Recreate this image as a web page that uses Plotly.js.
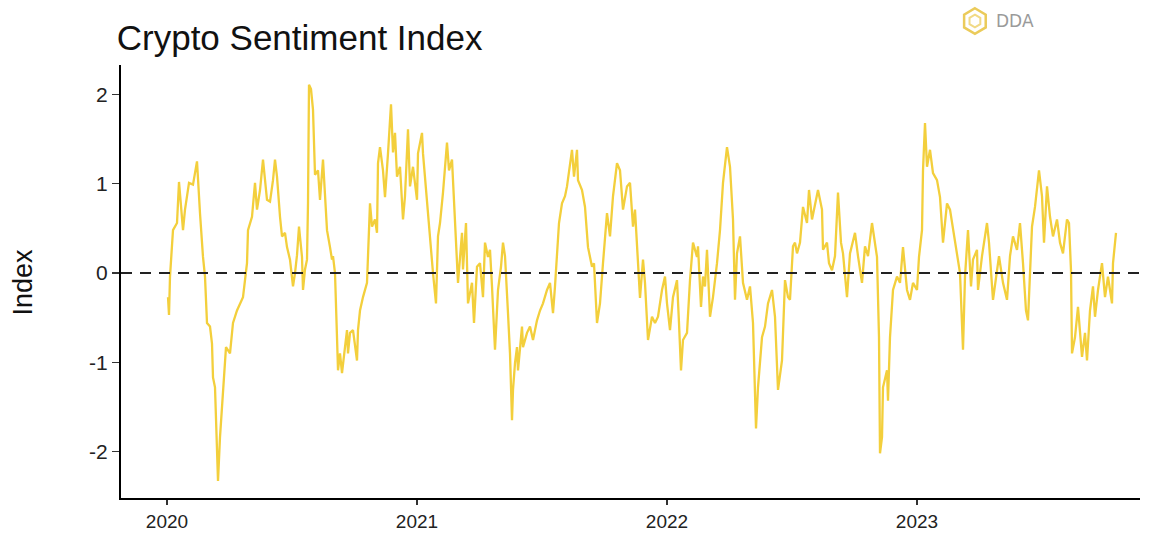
<!DOCTYPE html>
<html>
<head>
<meta charset="utf-8">
<script src="https://cdn.plot.ly/plotly-3.0.1.min.js"></script>
<style>html,body{margin:0;padding:0;background:#fff;}#chart{width:1156px;height:533px;}</style>
</head>
<body>
<div id="chart"></div>
<script>
// Decimal-year time stamps of the sentiment readings
const years = [
2020.004,2020.008,2020.012,2020.024,2020.040,2020.048,2020.064,2020.072,2020.088,2020.104,2020.120,2020.124,2020.132,2020.144,2020.152,2020.160,2020.172,2020.180,2020.184,2020.192,2020.200,2020.204,2020.212,2020.224,2020.236,2020.252,2020.264,2020.280,2020.292,2020.304,2020.320,2020.324,2020.340,2020.352,2020.360,2020.372,2020.384,2020.392,2020.400,2020.412,2020.424,2020.432,2020.440,2020.452,2020.460,2020.472,2020.480,2020.492,2020.504,2020.512,2020.520,2020.528,2020.540,2020.544,2020.552,2020.560,2020.564,2020.568,2020.576,2020.584,2020.592,2020.604,
2020.612,2020.624,2020.632,2020.640,2020.652,2020.660,2020.664,2020.672,2020.680,2020.684,2020.692,2020.700,2020.712,2020.720,2020.724,2020.732,2020.744,2020.760,2020.764,2020.772,2020.784,2020.800,2020.812,2020.820,2020.832,2020.840,2020.844,2020.852,2020.864,2020.872,2020.884,2020.896,2020.904,2020.912,2020.920,2020.932,2020.944,2020.952,2020.964,2020.972,2020.984,2021.000,2021.004,2021.020,2021.024,2021.040,2021.052,2021.064,2021.076,2021.084,2021.092,2021.104,2021.120,2021.128,2021.140,2021.148,2021.160,2021.164,2021.180,2021.184,2021.196,2021.204,2021.220,2021.228,2021.240,2021.252,
2021.264,2021.272,2021.284,2021.292,2021.300,2021.304,2021.312,2021.324,2021.336,2021.344,2021.352,2021.364,2021.372,2021.380,2021.384,2021.392,2021.400,2021.404,2021.420,2021.424,2021.440,2021.452,2021.464,2021.480,2021.492,2021.504,2021.520,2021.532,2021.544,2021.552,2021.560,2021.568,2021.580,2021.592,2021.600,2021.612,2021.620,2021.628,2021.640,2021.644,2021.660,2021.672,2021.684,2021.700,2021.708,2021.720,2021.732,2021.744,2021.760,2021.772,2021.784,2021.800,2021.812,2021.824,2021.840,2021.852,2021.864,2021.872,2021.884,2021.892,
2021.904,2021.912,2021.924,2021.940,2021.952,2021.964,2021.980,2021.992,2022.000,2022.012,2022.024,2022.040,2022.048,2022.056,2022.064,2022.080,2022.092,2022.104,2022.120,2022.124,2022.136,2022.144,2022.152,2022.160,2022.172,2022.184,2022.200,2022.212,2022.224,2022.240,2022.252,2022.264,2022.272,2022.280,2022.292,2022.304,2022.320,2022.332,2022.344,2022.356,2022.364,2022.380,2022.392,2022.404,2022.420,2022.432,2022.444,2022.460,2022.472,2022.484,2022.492,2022.504,2022.512,2022.520,2022.532,
2022.544,2022.560,2022.568,2022.580,2022.592,2022.604,2022.620,2022.624,2022.640,2022.648,2022.660,2022.672,2022.684,2022.696,2022.704,2022.720,2022.732,2022.752,2022.764,2022.780,2022.792,2022.804,2022.820,2022.832,2022.840,2022.848,2022.852,2022.860,2022.864,2022.880,2022.884,2022.892,2022.904,2022.920,2022.932,2022.944,2022.960,2022.972,2022.984,2023.000,2023.008,2023.020,2023.024,2023.032,2023.040,2023.052,2023.064,2023.080,2023.092,2023.104,2023.120,2023.132,2023.144,2023.160,2023.172,
2023.184,2023.192,2023.204,2023.216,2023.224,2023.240,2023.244,2023.260,2023.280,2023.288,2023.304,2023.320,2023.328,2023.344,2023.360,2023.372,2023.384,2023.400,2023.412,2023.424,2023.436,2023.444,2023.460,2023.472,2023.488,2023.500,2023.508,2023.520,2023.532,2023.544,2023.560,2023.572,2023.584,2023.600,2023.608,2023.616,2023.620,2023.632,2023.644,2023.660,2023.672,2023.680,2023.692,2023.704,2023.712,2023.724,2023.740,2023.752,2023.764,2023.780,2023.784,2023.796
];

// Sentiment index values
const sentiment = [
-0.27,-0.47,-0.04,0.48,0.56,1.02,0.48,0.71,1.01,0.99,1.25,1.00,0.67,0.18,-0.04,-0.56,-0.60,-0.79,-1.17,-1.28,-1.84,-2.33,-1.84,-1.28,-0.83,-0.90,-0.56,-0.42,-0.34,-0.27,0.11,0.48,0.63,1.01,0.71,0.93,1.27,1.08,0.82,0.80,1.04,1.27,1.08,0.63,0.41,0.45,0.29,0.15,-0.15,0.00,0.20,0.52,0.18,-0.19,0.04,0.15,0.78,2.11,2.06,1.83,1.10,1.15,
0.82,1.27,0.85,0.48,0.29,0.15,0.19,0.00,-0.72,-1.09,-0.90,-1.12,-0.83,-0.64,-0.90,-0.67,-0.64,-0.98,-0.64,-0.42,-0.27,-0.11,0.78,0.52,0.60,0.45,1.23,1.41,1.15,0.85,1.34,1.89,1.35,1.57,1.08,1.19,0.60,0.86,1.61,0.97,1.19,0.82,1.34,1.57,1.34,0.82,0.34,0.00,-0.34,0.41,0.56,0.90,1.46,1.15,1.27,0.78,0.15,-0.11,0.45,0.04,0.56,-0.34,-0.11,-0.56,0.07,0.11,
-0.27,0.34,0.18,0.26,-0.15,-0.34,-0.86,-0.19,0.07,0.34,0.19,-0.45,-0.90,-1.65,-1.31,-1.01,-0.83,-1.09,-0.60,-0.83,-0.67,-0.60,-0.75,-0.53,-0.42,-0.34,-0.19,-0.11,-0.45,-0.15,0.15,0.56,0.78,0.86,0.97,1.19,1.38,1.08,1.38,1.04,0.93,0.74,0.29,0.07,0.11,-0.56,-0.34,0.11,0.67,0.41,0.86,1.23,1.15,0.71,0.97,1.01,0.52,0.71,0.03,-0.28,
0.15,-0.11,-0.75,-0.49,-0.56,-0.49,-0.19,-0.04,-0.34,-0.64,-0.27,-0.08,-0.56,-1.09,-0.75,-0.67,-0.08,0.34,0.18,0.30,-0.38,-0.04,-0.15,0.26,-0.49,-0.27,0.11,0.48,1.01,1.41,1.19,0.60,-0.30,0.22,0.41,-0.11,-0.30,-0.15,-0.56,-1.74,-1.28,-0.72,-0.60,-0.34,-0.19,-0.49,-1.31,-0.98,-0.08,-0.27,-0.30,0.30,0.34,0.22,0.34,
0.74,0.56,0.93,0.60,0.78,0.93,0.71,0.26,0.34,0.11,0.03,0.19,0.90,0.34,0.22,-0.27,0.22,0.45,0.19,-0.11,0.30,0.19,0.56,0.34,0.18,-0.72,-2.02,-1.84,-1.28,-1.09,-1.43,-0.72,-0.19,-0.04,-0.11,0.29,-0.19,-0.30,-0.11,-0.19,0.18,0.48,1.15,1.68,1.19,1.38,1.12,1.04,0.85,0.34,0.78,0.71,0.48,0.22,0.00,
-0.86,-0.04,0.48,-0.15,0.15,0.26,-0.19,0.19,0.56,0.34,-0.30,0.04,0.19,-0.11,-0.30,0.19,0.41,0.26,0.56,0.11,-0.42,-0.53,0.52,0.74,1.15,0.86,0.34,0.97,0.63,0.41,0.60,0.34,0.22,0.60,0.56,0.03,-0.90,-0.72,-0.38,-0.94,-0.67,-0.98,-0.42,-0.15,-0.49,-0.19,0.11,-0.27,-0.04,-0.34,0.11,0.45
];

const yearTicks = [2020, 2021, 2022, 2023];
const yearLabels = ["2020", "2021", "2022", "2023"];
const indexTicks = [-2, -1, 0, 1, 2];
const indexLabels = ["-2", "-1", "0", "1", "2"];

const trace = {
  x: years, y: sentiment, type: 'scatter', mode: 'lines',
  line: {color: '#F3CF3C', width: 2.3}, hoverinfo: 'x+y', showlegend: false
};

// hexagon logo outline (decoration)
const cx = 0.838, cy = 1.1016, rx = 0.0122, ry = 0.0295;
function hexPath(s) {
  let p = '';
  for (let i = 0; i < 6; i++) {
    const a = Math.PI / 2 - i * Math.PI / 3;
    p += (i === 0 ? 'M ' : ' L ') + (cx + s * rx * Math.cos(a)).toFixed(4) + ' ' + (cy + s * ry * Math.sin(a)).toFixed(4);
  }
  return p + ' Z';
}

const font = 'Liberation Sans, Arial, sans-serif';

const layout = {
  width: 1156, height: 533,
  margin: {l: 121, r: 16, t: 65, b: 35},
  paper_bgcolor: '#ffffff', plot_bgcolor: '#ffffff',
  font: {family: font, color: '#000', size: 21},
  title: {text: 'Crypto Sentiment Index', x: 0.101, xanchor: 'left', xref: 'container',
          y: 0.93, yref: 'container', yanchor: 'middle',
          font: {family: font, size: 35, color: '#111'}},
  xaxis: {
    range: [2019.816, 2023.892], tickmode: 'array', tickvals: yearTicks, ticktext: yearLabels,
    showgrid: false, zeroline: false, showline: true, linecolor: '#000', linewidth: 2,
    ticks: 'outside', ticklen: 5, tickwidth: 1.5, tickcolor: '#333',
    tickfont: {family: font, size: 19, color: '#222'}, fixedrange: true
  },
  yaxis: {
    range: [-2.52, 2.33], tickmode: 'array', tickvals: indexTicks, ticktext: indexLabels,
    showgrid: false, zeroline: false, showline: true, linecolor: '#000', linewidth: 2,
    ticks: 'outside', ticklen: 7, tickwidth: 1.5, tickcolor: '#333',
    tickfont: {family: font, size: 21, color: '#222'}, fixedrange: true
  },
  shapes: [
    {type: 'line', xref: 'paper', x0: 0, x1: 1, yref: 'y', y0: 0, y1: 0,
     line: {color: '#222', width: 2, dash: '11px,8px'}, layer: 'above'},
    {type: 'path', xref: 'paper', yref: 'paper', path: hexPath(1), line: {color: '#EBCB5A', width: 2.5}},
    {type: 'path', xref: 'paper', yref: 'paper', path: hexPath(0.5), line: {color: '#F1DA86', width: 2}}
  ],
  annotations: [
    {text: 'Index', textangle: -90, xref: 'paper', yref: 'paper', x: -0.096, y: 0.498,
     xanchor: 'center', yanchor: 'middle', showarrow: false, font: {family: font, size: 27, color: '#111'}},
    {text: 'DDA', xref: 'paper', yref: 'paper', x: 0.857, y: 1.1016, xanchor: 'left', yanchor: 'middle',
     showarrow: false, font: {family: 'DejaVu Sans, sans-serif', size: 17, color: '#9a9a9a'}}
  ]
};

Plotly.newPlot('chart', [trace], layout, {displayModeBar: false, staticPlot: true});
</script>
</body>
</html>
